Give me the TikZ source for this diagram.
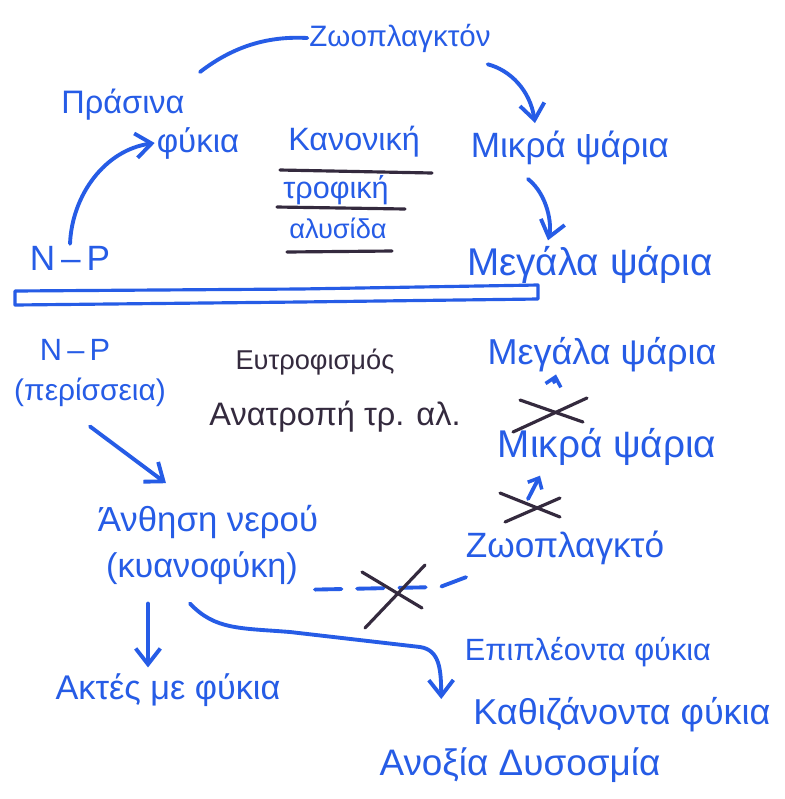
\documentclass[tikz,border=0pt]{standalone}
\usepackage{fontspec}
\setmainfont{Liberation Sans}
\usetikzlibrary{arrows.meta,calc}
\definecolor{marker}{RGB}{38,92,230}
\definecolor{ink}{RGB}{52,42,62}
\tikzset{
  lbl/.style={text=marker, inner sep=1pt, font=\fontsize{#1}{#1}\selectfont},
  lbl/.default=20,
  dlbl/.style={text=ink, inner sep=1pt, font=\fontsize{#1}{#1}\selectfont},
  dlbl/.default=18,
  pen/.style={draw=marker, line width=2.2pt, line cap=round, line join=round},
  penk/.style={draw=ink, line width=1.8pt, line cap=round},
  tipb/.style={-{Straight Barb[length=9pt,width=14pt,line width=2.2pt]}},
  tips/.style={-{Straight Barb[length=5pt,width=9pt,line width=2pt]}}
}
\begin{document}
\begin{tikzpicture}[x=0.02cm,y=-0.02cm]
\useasboundingbox[fill=white] (0,0) rectangle (785,799);

% ---------- upper part: normal food chain ----------
\node[lbl=16.8] (zoo) at (400,38) {Ζωοπλαγκτόν};
\node[lbl=18.5] (pras) at (123,105) {Πράσινα};
\node[lbl=18.8] (fyk) at (198,143) {φύκια};
\node[lbl=20] (mikra) at (570,148) {Μικρά ψάρια};
\node[lbl=22] (meg) at (590,265) {Μεγάλα ψάρια};
\node[lbl=20] (np) at (70,258) {N\,–\,P};

\node[lbl=18.4] (kan1) at (354,142) {Κανονική};
\node[lbl=17.4] (kan2) at (336,190) {τροφική};
\node[lbl=15.5] (kan3) at (338,228) {αλυσίδα};
\draw[penk] (280,170) -- (432,173);
\draw[penk] (277,207) -- (405,209);
\draw[penk] (287,252) -- (392,251);

\draw[pen] (200,72) .. controls (235,45) and (270,36) .. (zoo.west);
\draw[pen,tipb] (np.north) .. controls (72,195) and (105,150) .. (fyk.west);
\draw[pen,tipb] ($(zoo.south east)+(-5,10)$) .. controls (510,70) and (530,90) .. ($(mikra.north)+(-35,-6)$);
\draw[pen,tipb] ($(mikra.south)+(-42,12)$) .. controls (548,195) and (552,225) .. ($(meg.north)+(-42,-4)$);

% separating bar
\draw[pen,line width=1.8pt] (15,291) -- (300,289) -- (538,285) -- (538,299) -- (300,302) -- (15,305) -- cycle;

% ---------- lower part: eutrophication ----------
\node[lbl=17.5] (np2) at (75,350) {N\,–\,P};
\node[lbl=17] (per) at (90,392) {(περίσσεια)};
\node[dlbl=15.5] (eutr) at (315,362) {Ευτροφισμός};
\node[dlbl=18.5] (anat) at (335,417) {Ανατροπή τρ. αλ.};

\node[lbl=20.5] (meg2) at (602,355) {Μεγάλα ψάρια};
\node[lbl=22] (mikra2) at (607,447) {Μικρά ψάρια};
\node[lbl=20] (zoo2) at (565,548) {Ζωοπλαγκτό};

\node[lbl=19.8] (anth) at (208,522) {Άνθηση νερού};
\node[lbl=19.5] (kyan) at (202,568) {(κυανοφύκη)};
\node[lbl=19.5] (aktes) at (168,690) {Ακτές με φύκια};
\node[lbl=17.5] (epip) at (588,652) {Επιπλέοντα φύκια};
\node[lbl=20.5] (kath) at (622,715) {Καθιζάνοντα φύκια};
\node[lbl=21] (anox) at (520,765) {Ανοξία Δυσοσμία};

\draw[pen,tipb] ($(per.south)+(0,18)$) -- ($(anth.north)+(-42,-20)$);

% crossed-out links between fish and zooplankton
\draw[pen,tips] ($(mikra2.north)+(-53,-44)$) -- ($(meg2.south)+(-46,0)$);
\draw[penk] (520,400) -- (583,422);
\draw[penk] (513,432) -- (587,398);
\draw[pen,tips] ($(zoo2.north)+(-37,-30)$) -- ($(mikra2.south)+(-67,8)$);
\draw[penk] (500,493) -- (560,517);
\draw[penk] (505,522) -- (560,498);

% dashed, crossed link bloom -> zooplankton
\draw[pen,dash pattern=on 15pt off 9pt] ($(kyan.south east)+(15,3)$) -- (440,587) -- ($(zoo2.south west)+(8,8)$);
\draw[penk] (362,572) -- (422,608);
\draw[penk] (425,565) -- (365,628);

% consequences
\draw[pen,tipb] ($(kyan.south)+(-54,17)$) -- ($(aktes.north)+(-20,-4)$);
\draw[pen,tipb] ($(kyan.south)+(-12,17)$) .. controls (215,630) and (240,628) .. (290,632)
   -- (420,647) .. controls (440,650) and (441,670) .. ($(kath.west)+(-30,-16)$);
\end{tikzpicture}
\end{document}
